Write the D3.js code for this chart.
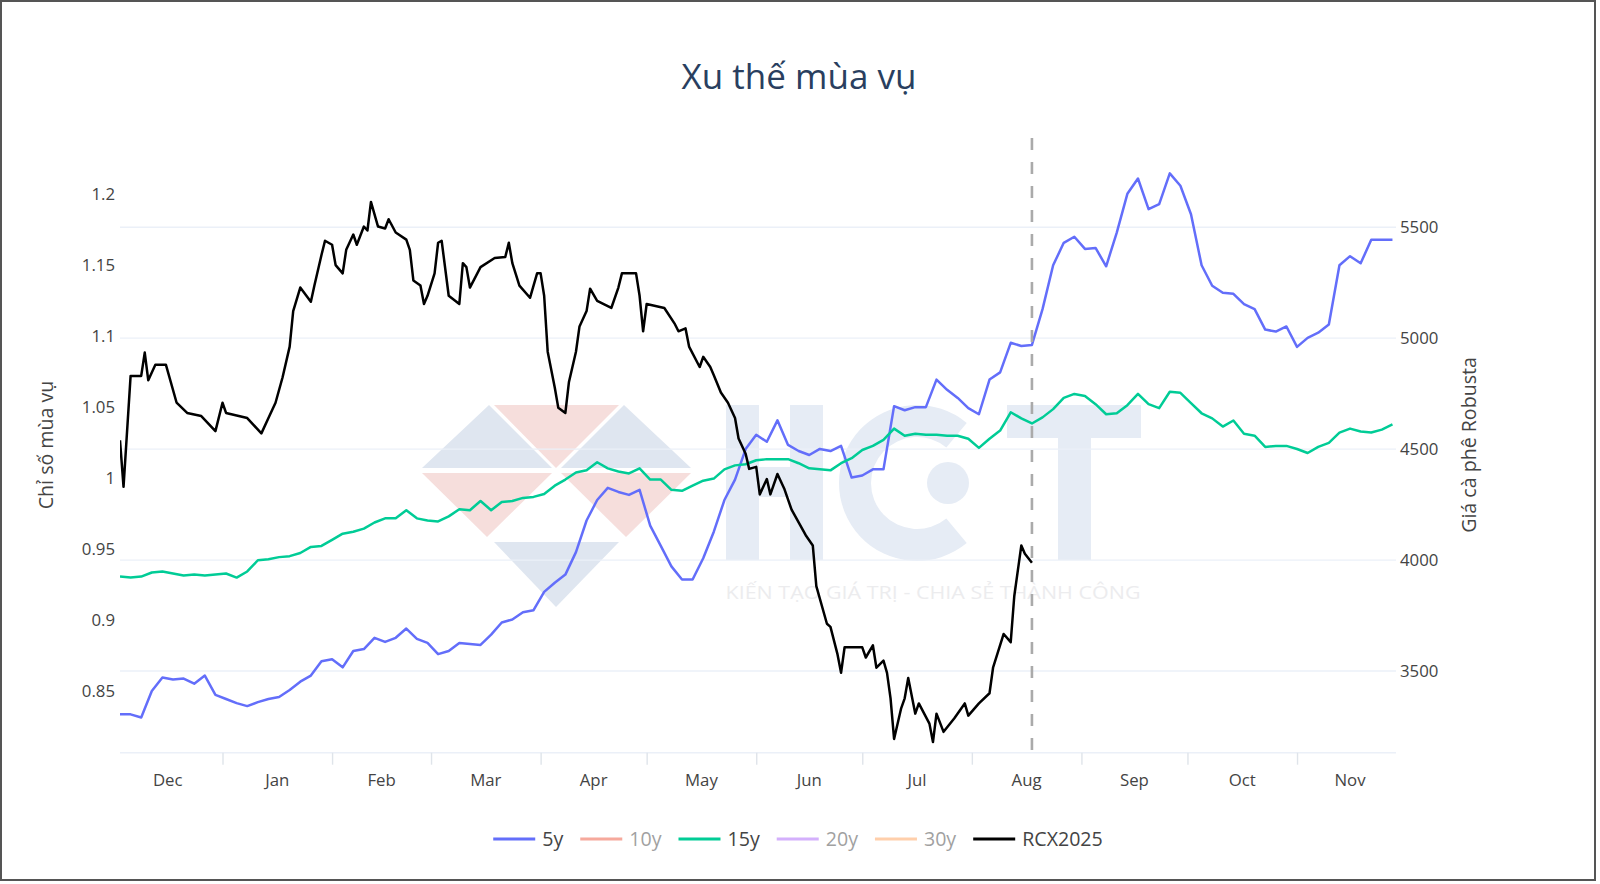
<!DOCTYPE html>
<html><head><meta charset="utf-8">
<script src="https://cdn.jsdelivr.net/npm/d3@7"></script>
<style>body{margin:0;background:#fff;} svg{display:block;font-family:"Open Sans",sans-serif;}</style>
</head><body><svg id="c" width="1600" height="884"></svg>
<script>
// ---------------- DATA ----------------
const chartTitle = "Xu thế mùa vụ";
const leftAxisTitle = "Chỉ số mùa vụ";
const rightAxisTitle = "Giá cà phê Robusta";
const monthLabels = ["Dec","Jan","Feb","Mar","Apr","May","Jun","Jul","Aug","Sep","Oct","Nov"];
const leftTicks = [0.85,0.9,0.95,1,1.05,1.1,1.15,1.2];
const rightTicks = [3500,4000,4500,5000,5500];
const legendNames = ["5y","10y","15y","20y","30y","RCX2025"];
const legendVisible = [true,false,true,false,false,true];
const currentDate = "2025-08-18";
const watermarkTagline = "KIẾN TẠO GIÁ TRỊ - CHIA SẺ THÀNH CÔNG";

const seasonDates = [
"2024-12-03","2024-12-06","2024-12-09","2024-12-12","2024-12-15","2024-12-18","2024-12-21","2024-12-24","2024-12-27","2024-12-30",
"2025-01-02","2025-01-05","2025-01-08","2025-01-11","2025-01-14","2025-01-17","2025-01-20","2025-01-23","2025-01-26","2025-01-29",
"2025-02-01","2025-02-04","2025-02-07","2025-02-10","2025-02-13","2025-02-16","2025-02-19","2025-02-22","2025-02-25","2025-02-28",
"2025-03-03","2025-03-06","2025-03-09","2025-03-12","2025-03-15","2025-03-18","2025-03-21","2025-03-24","2025-03-27","2025-03-30",
"2025-04-02","2025-04-05","2025-04-08","2025-04-11","2025-04-14","2025-04-17","2025-04-20","2025-04-23","2025-04-26","2025-04-29",
"2025-05-02","2025-05-05","2025-05-08","2025-05-11","2025-05-14","2025-05-17","2025-05-20","2025-05-23","2025-05-26","2025-05-29",
"2025-06-01","2025-06-04","2025-06-07","2025-06-10","2025-06-13","2025-06-16","2025-06-19","2025-06-22","2025-06-25","2025-06-28",
"2025-07-01","2025-07-04","2025-07-07","2025-07-10","2025-07-13","2025-07-16","2025-07-19","2025-07-22","2025-07-25","2025-07-28","2025-07-31",
"2025-08-03","2025-08-06","2025-08-09","2025-08-12","2025-08-15","2025-08-18","2025-08-21","2025-08-24","2025-08-27","2025-08-30",
"2025-09-02","2025-09-05","2025-09-08","2025-09-11","2025-09-14","2025-09-17","2025-09-20","2025-09-23","2025-09-26","2025-09-29",
"2025-10-02","2025-10-05","2025-10-08","2025-10-11","2025-10-14","2025-10-17","2025-10-20","2025-10-23","2025-10-26","2025-10-29",
"2025-11-01","2025-11-04","2025-11-07","2025-11-10","2025-11-13","2025-11-16","2025-11-19","2025-11-22","2025-11-25","2025-11-28"];

const values5y = [
0.8336,0.8336,0.8314,0.8501,0.8595,0.8581,0.8588,0.8552,0.8609,0.8473,
0.8444,0.8415,0.8394,0.8422,0.8444,0.8458,0.8508,0.8566,0.8609,0.8710,
0.8724,0.8667,0.8782,0.8796,0.8875,0.8846,0.8875,0.8940,0.8868,0.8839,
0.8760,0.8782,0.8839,0.8832,0.8825,0.8897,0.8983,0.9004,0.9055,0.9069,
0.9198,0.9263,0.9320,0.9478,0.9701,0.9845,0.9931,0.9902,0.9881,0.9917,
0.9665,0.9522,0.9378,0.9285,0.9285,0.9435,0.9622,0.9845,0.9989,1.0204,
1.0305,1.0255,1.0406,1.0233,1.0190,1.0162,1.0205,1.0190,1.0226,1.0003,
1.0018,1.0061,1.0061,1.0506,1.0477,1.0499,1.0499,1.0693,1.0621,1.0564,1.0492,
1.0449,1.0693,1.0744,1.0952,1.0930,1.0937,1.1189,1.1498,1.1656,1.1699,
1.1613,1.1620,1.1491,1.1728,1.2001,1.2109,1.1893,1.1929,1.2145,1.2058,
1.1857,1.1498,1.1354,1.1304,1.1297,1.1225,1.1189,1.1045,1.1031,1.1067,
1.0923,1.0987,1.1023,1.1081,1.1498,1.1562,1.1512,1.1677,1.1677,1.1677];

const values15y = [
0.9306,0.9299,0.9306,0.9335,0.9342,0.9328,0.9313,0.9320,0.9313,0.9320,
0.9328,0.9299,0.9342,0.9421,0.9428,0.9443,0.9450,0.9472,0.9515,0.9522,
0.9565,0.9608,0.9622,0.9644,0.9687,0.9716,0.9716,0.9773,0.9716,0.9701,
0.9694,0.9730,0.9780,0.9773,0.9838,0.9773,0.9831,0.9838,0.9860,0.9867,
0.9888,0.9946,0.9989,1.0039,1.0054,1.0111,1.0068,1.0046,1.0032,1.0068,
0.9989,0.9989,0.9917,0.9910,0.9946,0.9981,0.9996,1.0061,1.0089,1.0097,
1.0125,1.0133,1.0133,1.0133,1.0104,1.0068,1.0061,1.0054,1.0104,1.0140,
1.0197,1.0226,1.0269,1.0348,1.0298,1.0312,1.0305,1.0305,1.0298,1.0298,1.0276,
1.0212,1.0276,1.0334,1.0463,1.0420,1.0384,1.0427,1.0485,1.0564,1.0592,
1.0578,1.0520,1.0449,1.0456,1.0513,1.0592,1.0520,1.0492,1.0607,1.0600,
1.0528,1.0456,1.0420,1.0362,1.0405,1.0312,1.0298,1.0219,1.0226,1.0226,
1.0204,1.0176,1.0219,1.0248,1.0320,1.0348,1.0327,1.0320,1.0341,1.0377];

const rcx2025 = [
["2024-12-03",4540],["2024-12-04",4330],["2024-12-06",4830],["2024-12-09",4830],["2024-12-10",4935],
["2024-12-11",4810],["2024-12-13",4880],["2024-12-16",4880],["2024-12-19",4710],["2024-12-22",4663],
["2024-12-26",4649],["2024-12-30",4581],["2025-01-01",4709],["2025-01-02",4663],["2025-01-08",4640],
["2025-01-12",4571],["2025-01-14",4640],["2025-01-16",4709],["2025-01-18",4824],["2025-01-20",4962],
["2025-01-21",5122],["2025-01-23",5228],["2025-01-26",5164],["2025-01-27",5237],["2025-01-29",5375],
["2025-01-30",5439],["2025-02-01",5421],["2025-02-02",5329],["2025-02-04",5292],["2025-02-05",5398],
["2025-02-07",5467],["2025-02-08",5421],["2025-02-10",5503],["2025-02-11",5485],["2025-02-12",5614],
["2025-02-14",5503],["2025-02-16",5494],["2025-02-17",5536],["2025-02-19",5476],["2025-02-22",5444],
["2025-02-23",5398],["2025-02-24",5260],["2025-02-26",5237],["2025-02-27",5154],["2025-02-28",5191],
["2025-03-02",5292],["2025-03-03",5430],["2025-03-04",5439],["2025-03-06",5191],["2025-03-09",5154],
["2025-03-10",5338],["2025-03-11",5320],["2025-03-12",5228],["2025-03-15",5320],["2025-03-19",5361],
["2025-03-22",5366],["2025-03-23",5430],["2025-03-24",5338],["2025-03-26",5237],["2025-03-29",5182],
["2025-03-31",5292],["2025-04-01",5292],["2025-04-02",5191],["2025-04-03",4939],["2025-04-05",4778],
["2025-04-06",4686],["2025-04-08",4663],["2025-04-09",4801],["2025-04-11",4939],["2025-04-12",5053],
["2025-04-14",5122],["2025-04-15",5223],["2025-04-17",5168],["2025-04-21",5136],["2025-04-23",5228],
["2025-04-24",5292],["2025-04-28",5292],["2025-04-29",5191],["2025-04-30",5031],["2025-05-01",5154],
["2025-05-06",5136],["2025-05-09",5063],["2025-05-10",5031],["2025-05-12",5044],["2025-05-13",4962],
["2025-05-16",4870],["2025-05-17",4916],["2025-05-19",4870],["2025-05-20",4833],["2025-05-22",4755],
["2025-05-24",4709],["2025-05-26",4640],["2025-05-27",4548],["2025-05-29",4479],["2025-05-30",4411],
["2025-06-01",4420],["2025-06-02",4296],["2025-06-04",4365],["2025-06-05",4296],["2025-06-07",4388],
["2025-06-09",4319],["2025-06-11",4227],["2025-06-15",4112],["2025-06-17",4066],["2025-06-18",3883],
["2025-06-21",3713],["2025-06-22",3699],["2025-06-24",3575],["2025-06-25",3492],["2025-06-26",3607],
["2025-07-01",3607],["2025-07-02",3561],["2025-07-04",3616],["2025-07-05",3515],["2025-07-07",3547],
["2025-07-08",3492],["2025-07-09",3377],["2025-07-10",3194],["2025-07-12",3332],["2025-07-13",3377],
["2025-07-14",3469],["2025-07-16",3308],["2025-07-17",3354],["2025-07-20",3263],["2025-07-21",3180],
["2025-07-22",3308],["2025-07-24",3226],["2025-07-27",3286],["2025-07-30",3354],["2025-07-31",3299],
["2025-08-03",3354],["2025-08-06",3400],["2025-08-07",3515],["2025-08-10",3667],["2025-08-12",3630],
["2025-08-13",3837],["2025-08-15",4066],["2025-08-16",4029],["2025-08-18",3988]];

// ---------------- STYLE / LAYOUT ----------------
const colors = {"5y":"#636efa","10y":"#EF553B","15y":"#00cc96","20y":"#ab63fa","30y":"#FFA15A","RCX2025":"#000000"};
const W = 1600, H = 884;
const P = {l:120, r:1396, t:138, b:752.7};
const parse = d3.timeParse("%Y-%m-%d");

const svg = d3.select("#c");
svg.append("rect").attr("width",W).attr("height",H).attr("fill","#fff");
svg.append("rect").attr("x",1).attr("y",1).attr("width",1594).attr("height",879)
  .attr("fill","none").attr("stroke","#555").attr("stroke-width",2);

const x = d3.scaleTime().domain([parse("2024-12-03"), parse("2025-11-29")]).range([P.l, P.r]);
const y1 = d3.scaleLinear().domain([0.8066, 1.2394]).range([P.b, P.t]);
const y2 = d3.scaleLinear().domain([3132, 5902]).range([P.b, P.t]);

// watermark (logo shapes)
const wm = svg.append("g");
const tri = [
  {pts:[[422,468],[489,405],[552,468]], c:"#dfe6f0"},
  {pts:[[494,405],[619,405],[556,468]], c:"#f6dedc"},
  {pts:[[561,468],[624,405],[691,468]], c:"#dfe6f0"},
  {pts:[[422,473],[552,473],[487,537]], c:"#f6dedc"},
  {pts:[[561,473],[691,473],[626,537]], c:"#f6dedc"},
  {pts:[[494,542],[619,542],[556,607]], c:"#dfe6f0"}
];
tri.forEach(t => wm.append("polygon").attr("points", t.pts.map(p=>p.join(",")).join(" ")).attr("fill", t.c));
const wmc = "#e6ecf5";
// H
wm.append("rect").attr("x",726).attr("y",405).attr("width",33).attr("height",155).attr("fill",wmc);
wm.append("rect").attr("x",790).attr("y",405).attr("width",33).attr("height",155).attr("fill",wmc);
wm.append("rect").attr("x",726).attr("y",467).attr("width",97).attr("height",30).attr("fill",wmc);
// C with dot
wm.append("path").attr("transform","translate(917,483)")
  .attr("d", d3.arc().innerRadius(46).outerRadius(78).startAngle(Math.PI*0.78).endAngle(Math.PI*2.22)())
  .attr("fill",wmc);
wm.append("circle").attr("cx",948).attr("cy",483).attr("r",21).attr("fill",wmc);
// T
wm.append("rect").attr("x",1007).attr("y",405).attr("width",134).attr("height",33).attr("fill",wmc);
wm.append("rect").attr("x",1058).attr("y",405).attr("width",33).attr("height",155).attr("fill",wmc);
wm.append("text").attr("x",933).attr("y",599).attr("text-anchor","middle").attr("font-size",19)
  .attr("textLength",415).attr("lengthAdjust","spacingAndGlyphs")
  .attr("fill","#ececee").text(watermarkTagline);

// gridlines (right axis)
svg.append("g").selectAll("line").data(rightTicks).join("line")
  .attr("x1",P.l).attr("x2",P.r).attr("y1",d=>y2(d)).attr("y2",d=>y2(d))
  .attr("stroke","#ebf0f8").attr("stroke-width",1.4);
svg.append("line").attr("x1",P.l).attr("x2",P.r).attr("y1",P.b).attr("y2",P.b)
  .attr("stroke","#ebf0f8").attr("stroke-width",1.4);

// x axis ticks at month boundaries
const monthStarts = monthLabels.map((m,i)=>d3.timeMonth.offset(parse("2024-12-01"), i));
const xAxis = svg.append("g").attr("transform",`translate(0,${P.b})`)
  .call(d3.axisBottom(x).tickValues(monthStarts.filter(d=>x(d)>=P.l)).tickSize(12).tickFormat(""));
xAxis.select(".domain").remove();
xAxis.selectAll(".tick line").attr("stroke","#dfe4ea").attr("stroke-width",1.4);
svg.append("g").selectAll("text").data(monthLabels).join("text")
  .attr("x",(d,i)=>(x(monthStarts[i]) + x(d3.timeMonth.offset(monthStarts[i],1)))/2)
  .attr("y",780).attr("dy","0.35em").attr("text-anchor","middle")
  .attr("font-size",16.8).attr("fill","#444").text(d=>d);

// y axes
const fmt = d3.format("~g");
const yl = svg.append("g").attr("transform",`translate(${P.l},0)`)
  .call(d3.axisLeft(y1).tickValues(leftTicks).tickSize(0).tickPadding(5).tickFormat(fmt));
yl.select(".domain").remove();
yl.selectAll("text").attr("font-size",16.8).attr("fill","#444").attr("font-family","Open Sans");
const yr = svg.append("g").attr("transform",`translate(${P.r},0)`)
  .call(d3.axisRight(y2).tickValues(rightTicks).tickSize(0).tickPadding(4).tickFormat(d3.format("d")));
yr.select(".domain").remove();
yr.selectAll("text").attr("font-size",16.8).attr("fill","#444").attr("font-family","Open Sans");

// axis titles
svg.append("text").attr("transform",`translate(46,445) rotate(-90)`).attr("text-anchor","middle")
  .attr("dy","0.35em").attr("font-size",19.6).attr("fill","#444").text(leftAxisTitle);
svg.append("text").attr("transform",`translate(1469,445) rotate(-90)`).attr("text-anchor","middle")
  .attr("dy","0.35em").attr("font-size",19.6).attr("fill","#444").text(rightAxisTitle);

// title
svg.append("text").attr("x",799).attr("y",89).attr("text-anchor","middle")
  .attr("font-size",35).attr("fill","#2a3f5f").text(chartTitle);

// lines
svg.append("clipPath").attr("id","clip").append("rect")
  .attr("x",P.l).attr("y",P.t).attr("width",P.r-P.l).attr("height",P.b-P.t);
const plot = svg.append("g").attr("clip-path","url(#clip)");
const line1 = d3.line().x(d=>x(d[0])).y(d=>y1(d[1]));
const line2 = d3.line().x(d=>x(d[0])).y(d=>y2(d[1]));
const s5 = seasonDates.map((d,i)=>[parse(d), values5y[i]]);
const s15 = seasonDates.map((d,i)=>[parse(d), values15y[i]]);
const sr = rcx2025.map(d=>[parse(d[0]), d[1]]);
plot.append("path").attr("d",line1(s5)).attr("fill","none").attr("stroke",colors["5y"]).attr("stroke-width",2.5).attr("stroke-linejoin","round");
plot.append("path").attr("d",line1(s15)).attr("fill","none").attr("stroke",colors["15y"]).attr("stroke-width",2.5).attr("stroke-linejoin","round");
plot.append("path").attr("d",line2(sr)).attr("fill","none").attr("stroke",colors["RCX2025"]).attr("stroke-width",2.5).attr("stroke-linejoin","round");

// current date dashed line
svg.append("line").attr("x1",x(parse(currentDate))).attr("x2",x(parse(currentDate)))
  .attr("y1",P.t).attr("y2",P.b).attr("stroke","#aaaaaa").attr("stroke-width",2.6)
  .attr("stroke-dasharray","12,12");

// legend
const lg = svg.append("g");
let cx = 0;
legendNames.forEach((n,i)=>{
  const g = lg.append("g").attr("opacity", legendVisible[i] ? 1 : 0.5);
  g.append("line").attr("x1",cx+7).attr("x2",cx+49).attr("y1",0).attr("y2",0)
    .attr("stroke",colors[n]).attr("stroke-width",2.8);
  const t = g.append("text").attr("x",cx+56).attr("y",0).attr("dy","0.35em")
    .attr("font-size",19.6).attr("fill","#444").text(n);
  cx += 56 + t.node().getComputedTextLength() + 10;
});
const totalW = cx - 10;
lg.attr("transform",`translate(${794.5 - totalW/2},839)`);
</script></body></html>
